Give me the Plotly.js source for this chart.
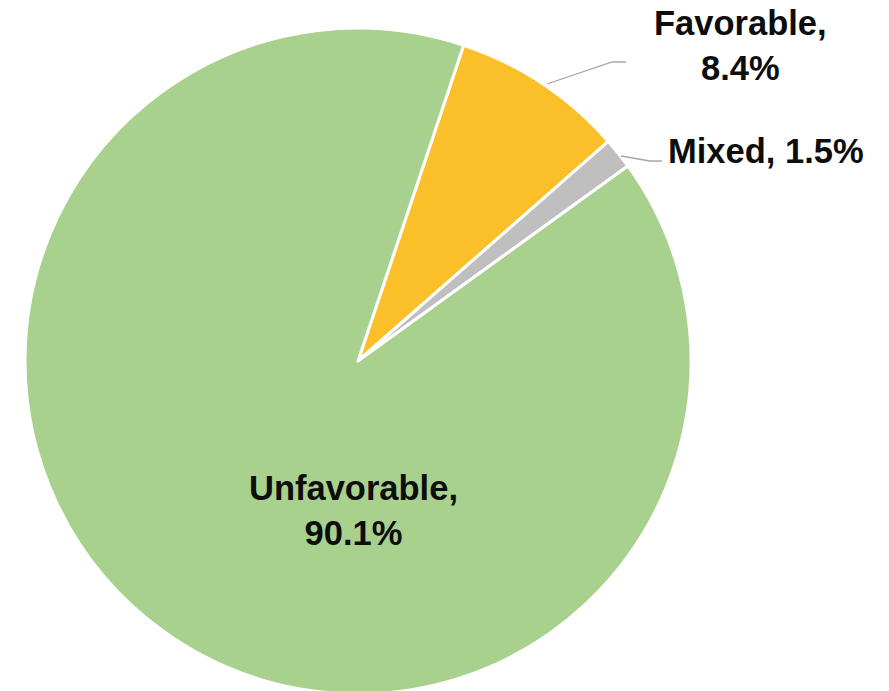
<!DOCTYPE html>
<html>
<head>
<meta charset="utf-8">
<script src="https://cdn.plot.ly/plotly-3.0.1.min.js"></script>
<style>
html,body{margin:0;padding:0;overflow:hidden;background:#fff;}
#chart{width:889px;height:694px;}
</style>
</head>
<body>
<div id="chart"></div>
<script>
var categories = ["Favorable", "Mixed", "Unfavorable"];
var shares = [8.4, 1.5, 90.1];
var sliceColors = ["#FBBF2A", "#BFBFBF", "#A9D18E"];

var W = 889, H = 694;
function px(x){ return x / W; }
function py(y){ return 1 - y / H; }

var labelText = categories.map(function(c, i){ return c + ", " + shares[i].toFixed(1) + "%"; });

var font = {family: "Liberation Sans, Arial, sans-serif", size: 34.5, color: "#0d0d0d"};

var data = [{
  type: "pie",
  labels: categories,
  values: shares,
  sort: false,
  direction: "clockwise",
  rotation: 18.5,
  marker: {colors: sliceColors, line: {color: "#ffffff", width: 3}},
  textinfo: "none",
  hoverinfo: "label+percent",
  domain: {x: [px(25), px(691)], y: [py(694), py(28)]},
  showlegend: false
}];

var layout = {
  width: W, height: H,
  margin: {l: 0, r: 0, t: 0, b: 0},
  paper_bgcolor: "#ffffff",
  showlegend: false,
  annotations: [
    {xref: "paper", yref: "paper", x: px(740), y: py(45), xanchor: "center", yanchor: "middle",
     text: "<b>" + categories[0] + ",<br>" + shares[0].toFixed(1) + "%</b>", showarrow: false, font: font},
    {xref: "paper", yref: "paper", x: px(666), y: py(151), xanchor: "left", yanchor: "middle",
     text: "<b>" + labelText[1] + "</b>", showarrow: false, font: font},
    {xref: "paper", yref: "paper", x: px(353), y: py(510), xanchor: "center", yanchor: "middle",
     text: "<b>" + categories[2] + ",<br>" + shares[2].toFixed(1) + "%</b>", showarrow: false, font: font}
  ],
  shapes: [
    {type: "path", xref: "paper", yref: "paper",
     path: "M " + px(547) + " " + py(84) + " L " + px(612) + " " + py(62) + " L " + px(626) + " " + py(62),
     line: {color: "#A6A6A6", width: 1.3}},
    {type: "path", xref: "paper", yref: "paper",
     path: "M " + px(621) + " " + py(156) + " L " + px(650) + " " + py(161) + " L " + px(662) + " " + py(161),
     line: {color: "#A6A6A6", width: 1.3}}
  ]
};

Plotly.newPlot("chart", data, layout, {staticPlot: true, displayModeBar: false});
</script>
</body>
</html>
